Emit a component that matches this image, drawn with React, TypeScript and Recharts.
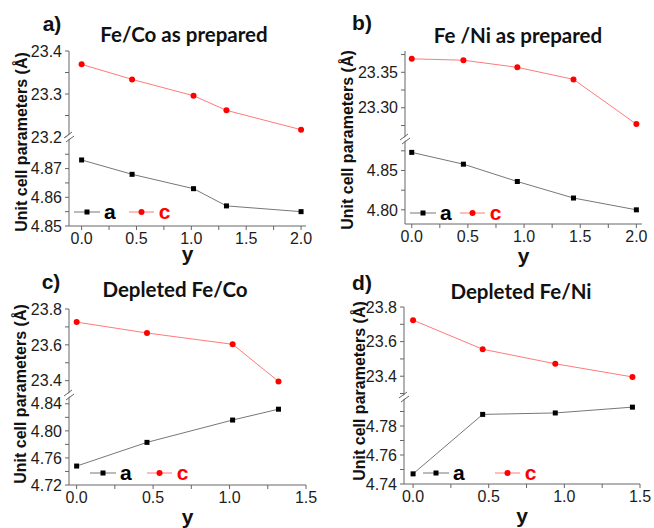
import React from 'react';
import { LineChart, Line, XAxis, YAxis } from 'recharts';

// composition y for each sample set
const yFeCoPrep = [0, 0.46, 1.02, 1.32, 2.0];
const aFeCoPrep = [4.873, 4.868, 4.863, 4.857, 4.855];
const cFeCoPrep = [23.369, 23.334, 23.296, 23.262, 23.217];

const yFeNiPrep = [0, 0.46, 0.94, 1.44, 2.0];
const aFeNiPrep = [4.873, 4.858, 4.836, 4.815, 4.8];
const cFeNiPrep = [23.369, 23.367, 23.357, 23.34, 23.277];

const yFeCoDep = [0, 0.46, 1.02, 1.32];
const aFeCoDep = [4.748, 4.783, 4.816, 4.832];
const cFeCoDep = [23.727, 23.666, 23.603, 23.396];

const yFeNiDep = [0, 0.46, 0.94, 1.45];
const aFeNiDep = [4.747, 4.788, 4.789, 4.793];
const cFeNiDep = [23.724, 23.556, 23.472, 23.396];

// tick values
const xTicksTo2 = [0, 0.25, 0.5, 0.75, 1, 1.25, 1.5, 1.75, 2];
const xMajorTo2 = [0, 0.5, 1, 1.5, 2];
const xTicksTo15 = [0, 0.25, 0.5, 0.75, 1, 1.25, 1.5];
const xMajorTo15 = [0, 0.5, 1, 1.5];

const cTicksA = [23.2, 23.25, 23.3, 23.35, 23.4];
const cMajorA = [23.2, 23.3, 23.4];
const aTicksA = [4.85, 4.855, 4.86, 4.865, 4.87, 4.875];
const aMajorA = [4.85, 4.86, 4.87];

const cTicksB = [23.275, 23.3, 23.325, 23.35, 23.375];
const cMajorB = [23.3, 23.35];
const aTicksB = [4.8, 4.825, 4.85, 4.875];
const aMajorB = [4.8, 4.85];

const cTicksC = [23.4, 23.5, 23.6, 23.7, 23.8];
const cMajorC = [23.4, 23.6, 23.8];
const aTicksC = [4.72, 4.74, 4.76, 4.78, 4.8, 4.82, 4.84];
const aMajorC = [4.72, 4.76, 4.8, 4.84];

const cTicksD = [23.3, 23.4, 23.5, 23.6, 23.7, 23.8];
const cMajorD = [23.4, 23.6, 23.8];
const aTicksD = [4.74, 4.75, 4.76, 4.77, 4.78, 4.79];
const aMajorD = [4.74, 4.76, 4.78];

const AXIS = '#666';
const TXT = '#1c1c1c';
const SANS = '"Liberation Sans", Arial, sans-serif';
const YW = 60;
const PAD = 2;
const XH = 46;

const isMajor = (v: number, major: number[]) => major.some(m => Math.abs(m - v) < 1e-9);

const Square = (props: any) => {
  const { cx, cy } = props;
  if (cx == null || cy == null) return null;
  return <rect x={cx - 2.5} y={cy - 2.5} width={5} height={5} fill="#000" />;
};

const panels = [
  {
    label: 'a)', title: 'Fe/Co as prepared', ys: yFeCoPrep, as: aFeCoPrep, cs: cFeCoPrep,
    L: 69, R: 306, T: 51, M: 137, B: 226, xDomain: [-0.115, 2.045], xTicks: xTicksTo2, xMajor: xMajorTo2,
    cDomain: [23.2, 23.4], cTicks: cTicksA, cMajor: cMajorA, cDec: 1,
    aDomain: [4.85, 4.881], aTicks: aTicksA, aMajor: aMajorA, aDec: 2,
    titlePos: [184, 34], labelPos: [52, 24], yTitlePos: [21.5, 142], legend: [5, -14, 13], yBase: 35,
  },
  {
    label: 'b)', title: 'Fe /Ni as prepared', ys: yFeNiPrep, as: aFeNiPrep, cs: cFeNiPrep,
    L: 405, R: 642, T: 51, M: 139, B: 224, xDomain: [-0.06, 2.05], xTicks: xTicksTo2, xMajor: xMajorTo2,
    cDomain: [23.256, 23.38], cTicks: cTicksB, cMajor: cMajorB, cDec: 2,
    aDomain: [4.782, 4.89], aTicks: aTicksB, aMajor: aMajorB, aDec: 2,
    titlePos: [518, 35], labelPos: [362, 23], yTitlePos: [348, 140], legend: [5, -11, 8], yBase: 39,
  },
  {
    label: 'c)', title: 'Depleted Fe/Co', ys: yFeCoDep, as: aFeCoDep, cs: cFeCoDep,
    L: 69, R: 306, T: 309, M: 395, B: 485, xDomain: [-0.05, 1.5], xTicks: xTicksTo15, xMajor: xMajorTo15,
    cDomain: [23.32, 23.8], cTicks: cTicksC, cMajor: cMajorC, cDec: 1,
    aDomain: [4.72, 4.853], aTicks: aTicksC, aMajor: aMajorC, aDec: 2,
    titlePos: [175, 289], labelPos: [51, 282], yTitlePos: [20.5, 394], legend: [21, -12, 15], yBase: 39,
  },
  {
    label: 'd)', title: 'Depleted Fe/Ni', ys: yFeNiDep, as: aFeNiDep, cs: cFeNiDep,
    L: 404, R: 640, T: 307, M: 397, B: 484, xDomain: [-0.06, 1.5], xTicks: xTicksTo15, xMajor: xMajorTo15,
    cDomain: [23.28, 23.8], cTicks: cTicksD, cMajor: cMajorD, cDec: 1,
    aDomain: [4.74, 4.8], aTicks: aTicksD, aMajor: aMajorD, aDec: 2,
    titlePos: [521, 291], labelPos: [362, 283], yTitlePos: [360, 391], legend: [19, -11, 30], yBase: 39,
  },
];

const tickStyle = { fill: TXT, fontSize: 16, fontFamily: SANS };

function Centered({ x, y, style, children }: any) {
  return (
    <div style={{ position: 'absolute', left: x, top: y, transform: 'translate(-50%, -50%)', whiteSpace: 'nowrap', ...style }}>
      {children}
    </div>
  );
}

function Legend({ left, top, gap }: { left: number; top: number; gap: number }) {
  const txt = { fontFamily: SANS, fontWeight: 700, fontSize: 21, lineHeight: '20px' };
  return (
    <div style={{ position: 'absolute', left, top: top - 10, height: 20, display: 'flex', alignItems: 'center' }}>
      <svg width={26} height={10}>
        <line x1={0} y1={5} x2={26} y2={5} stroke="#777" strokeWidth={1} />
        <rect x={10.5} y={2.5} width={5} height={5} fill="#000" />
      </svg>
      <span style={{ ...txt, color: '#000', marginLeft: 4 }}>a</span>
      <svg width={25} height={10} style={{ marginLeft: gap }}>
        <line x1={0} y1={5} x2={25} y2={5} stroke="#ff7a7a" strokeWidth={1} />
        <circle cx={12.5} cy={5} r={3} fill="#ff0000" />
      </svg>
      <span style={{ ...txt, color: '#ff0000', marginLeft: 5 }}>c</span>
    </div>
  );
}

function Panel({ p }: { p: any }) {
  const w = YW + (p.R - p.L) + PAD;
  const data = p.ys.map((y: number, i: number) => ({ y, a: p.as[i], c: p.cs[i] }));
  const fmt = (major: number[], dec: number) => (v: number) => (isMajor(v, major) ? v.toFixed(dec) : '');
  return (
    <>
      <div style={{ position: 'absolute', left: p.L - YW, top: p.T - PAD }}>
        <LineChart width={w} height={p.M - p.T + PAD} data={data} margin={{ top: PAD, right: PAD, left: 0, bottom: 0 }}>
          <XAxis dataKey="y" type="number" orientation="top" domain={p.xDomain} ticks={p.xTicks}
            tick={false} tickLine={false} height={0} axisLine={{ stroke: AXIS }} />
          <YAxis yAxisId="l" type="number" domain={p.cDomain} ticks={p.cTicks} tickFormatter={fmt(p.cMajor, p.cDec)}
            interval={0} width={YW} tickSize={4} tickMargin={3} tick={tickStyle}
            axisLine={{ stroke: AXIS }} tickLine={{ stroke: AXIS }} />
          <YAxis yAxisId="r" orientation="right" type="number" domain={p.cDomain} ticks={p.cTicks} mirror width={0}
            interval={0} tick={false} tickSize={4} axisLine={{ stroke: AXIS }} tickLine={{ stroke: AXIS }} />
          <Line yAxisId="l" dataKey="c" stroke="#ff7a7a" strokeWidth={1} isAnimationActive={false}
            dot={{ r: 3, fill: '#ff0000', stroke: '#ff0000', strokeWidth: 0 }} activeDot={false} />
        </LineChart>
      </div>
      <div style={{ position: 'absolute', left: p.L - YW, top: p.M }}>
        <LineChart width={w} height={p.B - p.M + XH} data={data} margin={{ top: 0, right: PAD, left: 0, bottom: 0 }}>
          <XAxis dataKey="y" type="number" domain={p.xDomain} ticks={p.xTicks} tickFormatter={fmt(p.xMajor, 1)}
            interval={0} height={XH} tickSize={4} tickMargin={3} tick={tickStyle}
            axisLine={{ stroke: AXIS }} tickLine={{ stroke: AXIS }}
            label={{ value: 'y', position: 'insideBottom', offset: XH - p.yBase, fill: '#111', fontSize: 21, fontWeight: 700, fontFamily: SANS }} />
          <YAxis yAxisId="l" type="number" domain={p.aDomain} ticks={p.aTicks} tickFormatter={fmt(p.aMajor, p.aDec)}
            interval={0} width={YW} tickSize={4} tickMargin={3} tick={tickStyle}
            axisLine={{ stroke: AXIS }} tickLine={{ stroke: AXIS }} />
          <YAxis yAxisId="r" orientation="right" type="number" domain={p.aDomain} ticks={p.aTicks} mirror width={0}
            interval={0} tick={false} tickSize={4} axisLine={{ stroke: AXIS }} tickLine={{ stroke: AXIS }} />
          <Line yAxisId="l" dataKey="a" stroke="#777" strokeWidth={1} isAnimationActive={false}
            dot={<Square />} activeDot={false} />
        </LineChart>
      </div>
      {/* axis break mark */}
      <svg width={12} height={12} style={{ position: 'absolute', left: p.L - 6, top: p.M - 6 }}>
        <polygon points="1,8 9,2 11,4 3,10" fill="#fff" />
        <line x1={1} y1={7} x2={9} y2={1} stroke={AXIS} strokeWidth={1} />
        <line x1={3} y1={11} x2={11} y2={5} stroke={AXIS} strokeWidth={1} />
      </svg>
      <Legend left={p.L + p.legend[0]} top={p.B + p.legend[1]} gap={p.legend[2]} />
      <Centered x={p.titlePos[0]} y={p.titlePos[1]} style={{ fontFamily: 'Lato, sans-serif', fontWeight: 700, fontSize: 20.5, color: '#111' }}>
        {p.title}
      </Centered>
      <Centered x={p.labelPos[0]} y={p.labelPos[1]} style={{ fontFamily: SANS, fontWeight: 700, fontSize: 21, color: '#111' }}>
        {p.label}
      </Centered>
      <div style={{
        position: 'absolute', left: p.yTitlePos[0], top: p.yTitlePos[1], transform: 'translate(-50%, -50%) rotate(-90deg)',
        whiteSpace: 'nowrap', fontFamily: SANS, fontWeight: 700, fontSize: 16, color: '#111',
      }}>
        Unit cell parameters (Å)
      </div>
    </>
  );
}

export default function App() {
  return (
    <div style={{ position: 'absolute', left: 0, top: 0, width: 654, height: 528, background: '#fff', overflow: 'hidden' }}>
      <style>{'.recharts-surface { overflow: visible; } .recharts-wrapper { overflow: visible; }'}</style>
      {panels.map(p => <Panel key={p.label} p={p} />)}
    </div>
  );
}
